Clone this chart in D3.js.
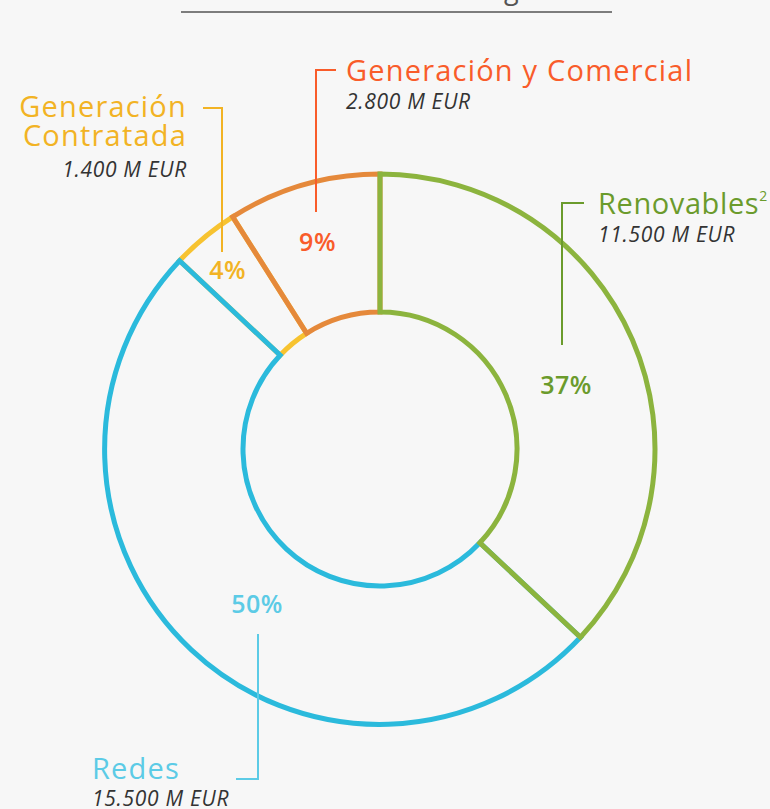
<!DOCTYPE html>
<html>
<head>
<meta charset="utf-8">
<script src="https://cdn.jsdelivr.net/npm/d3@7"></script>
<style>
  html, body { margin: 0; padding: 0; background: #f7f7f7; }
  svg { display: block; }
</style>
</head>
<body>
<div id="chart"></div>
<script>
// data
const segments = ["Renovables", "Redes", "Generación Contratada", "Generación y Comercial"];
const shares = [37, 50, 4, 9];
const amounts = [11500, 15500, 1400, 2800];

const width = 770;
const height = 809;
const cx = 380, cy = 449;
const innerR = 137, outerR = 275;

// colours and annotation layout, by segment
const arcColor = {
  "Renovables": "#8cb43e",
  "Redes": "#2bbadc",
  "Generación Contratada": "#f7c330",
  "Generación y Comercial": "#e5893b"
};
const textColor = {
  "Renovables": "#6b9b2c",
  "Redes": "#5ccbe6",
  "Generación Contratada": "#f2b324",
  "Generación y Comercial": "#f95c2a"
};
const layout = {
  "Renovables": {lines: ["Renovables"], sup: "2", x: 598, y: 214, anchor: "start", amountY: 242, spacing: 0.6,
    leader: [[584, 203], [562, 203], [562, 345]], pctOff: [-3, 18]},
  "Redes": {lines: ["Redes"], x: 92, y: 779, anchor: "start", amountY: 806, spacing: 1.2,
    leader: [[258, 634], [258, 779], [236, 779]], pctOff: [18, 5]},
  "Generación Contratada": {lines: ["Generación", "Contratada"], x: 187, y: 117, anchor: "end", amountY: 177, spacing: 1.2,
    leader: [[203, 108], [222, 108], [222, 252]], pctOff: [-21, -20]},
  "Generación y Comercial": {lines: ["Generación y Comercial"], x: 346, y: 81, anchor: "start", amountY: 109, spacing: 1.2,
    leader: [[336, 70], [316, 70], [316, 212]], pctOff: [-5, -9]}
};
// order in which outlines are stacked (last on top)
const drawOrder = ["Generación Contratada", "Generación y Comercial", "Redes", "Renovables"];

const locale = d3.formatLocale({decimal: ",", thousands: ".", grouping: [3], currency: ["", " €"]});
const fmt = locale.format(",d");

const data = segments.map((name, i) => ({name, share: shares[i], amount: amounts[i]}));

const pie = d3.pie().sort(null).value(d => d.share);
const arcs = pie(data);

const arc = d3.arc().innerRadius(innerR).outerRadius(outerR);

const svg = d3.select("#chart")
  .append("svg")
    .attr("width", width)
    .attr("height", height)
    .attr("viewBox", [0, 0, width, height]);

// title, mostly cut off above the frame
const title = svg.append("text")
  .attr("y", -1)
  .attr("fill", "#555")
  .attr("font-family", "Open Sans, sans-serif")
  .attr("font-size", 27)
  .text("Inversión en cada negocio");
const gi = title.text().indexOf("g");
const before = title.node().getSubStringLength(0, gi);
title.attr("x", 504 - before);

svg.append("line")
  .attr("x1", 181).attr("x2", 612)
  .attr("y1", 12).attr("y2", 12)
  .attr("stroke", "#555")
  .attr("stroke-width", 1.5);

const g = svg.append("g").attr("transform", `translate(${cx},${cy})`);

g.selectAll("path")
  .data(d3.sort(arcs, d => drawOrder.indexOf(d.data.name)))
  .join("path")
    .attr("d", arc)
    .attr("fill", "none")
    .attr("stroke", d => arcColor[d.data.name])
    .attr("stroke-width", 5)
    .attr("stroke-linejoin", "miter");

// percentages at the middle of each ring segment
const mid = d3.arc().innerRadius((innerR + outerR) / 2).outerRadius((innerR + outerR) / 2);
g.selectAll("text.pct")
  .data(arcs)
  .join("text")
    .attr("class", "pct")
    .attr("x", d => mid.centroid(d)[0] + layout[d.data.name].pctOff[0])
    .attr("y", d => mid.centroid(d)[1] + layout[d.data.name].pctOff[1])
    .attr("dy", "0.35em")
    .attr("text-anchor", "middle")
    .attr("font-family", "Open Sans, sans-serif")
    .attr("font-weight", 600)
    .attr("font-size", 25)
    .attr("letter-spacing", 0.5)
    .attr("fill", d => textColor[d.data.name])
    .text(d => d.data.share + "%");

// leader lines
const line = d3.line();
svg.append("g")
  .selectAll("path")
  .data(data)
  .join("path")
    .attr("d", d => line(layout[d.name].leader))
    .attr("fill", "none")
    .attr("stroke", d => textColor[d.name])
    .attr("stroke-width", 2);

// segment names and amounts
const labels = svg.append("g")
  .selectAll("g")
  .data(data)
  .join("g");

labels.each(function(d) {
  const L = layout[d.name];
  const sel = d3.select(this);
  const t = sel.append("text")
    .attr("x", L.x)
    .attr("y", L.y)
    .attr("text-anchor", L.anchor)
    .attr("font-family", "Open Sans, sans-serif")
    .attr("font-size", 29)
    .attr("letter-spacing", L.spacing)
    .attr("fill", textColor[d.name]);
  L.lines.forEach((s, i) => {
    t.append("tspan")
      .attr("x", L.x)
      .attr("dy", i === 0 ? 0 : 29)
      .text(s);
  });
  if (L.sup) {
    t.append("tspan")
      .attr("font-size", 14)
      .attr("letter-spacing", 0)
      .attr("baseline-shift", "90%")
      .text(L.sup);
  }
  sel.append("text")
    .attr("x", L.x)
    .attr("y", L.amountY)
    .attr("text-anchor", L.anchor)
    .attr("font-family", "Open Sans, sans-serif")
    .attr("font-style", "italic")
    .attr("font-size", 21)
    .attr("letter-spacing", 0.7)
    .attr("fill", "#333")
    .text(fmt(d.amount) + " M EUR");
});
</script>
</body>
</html>
